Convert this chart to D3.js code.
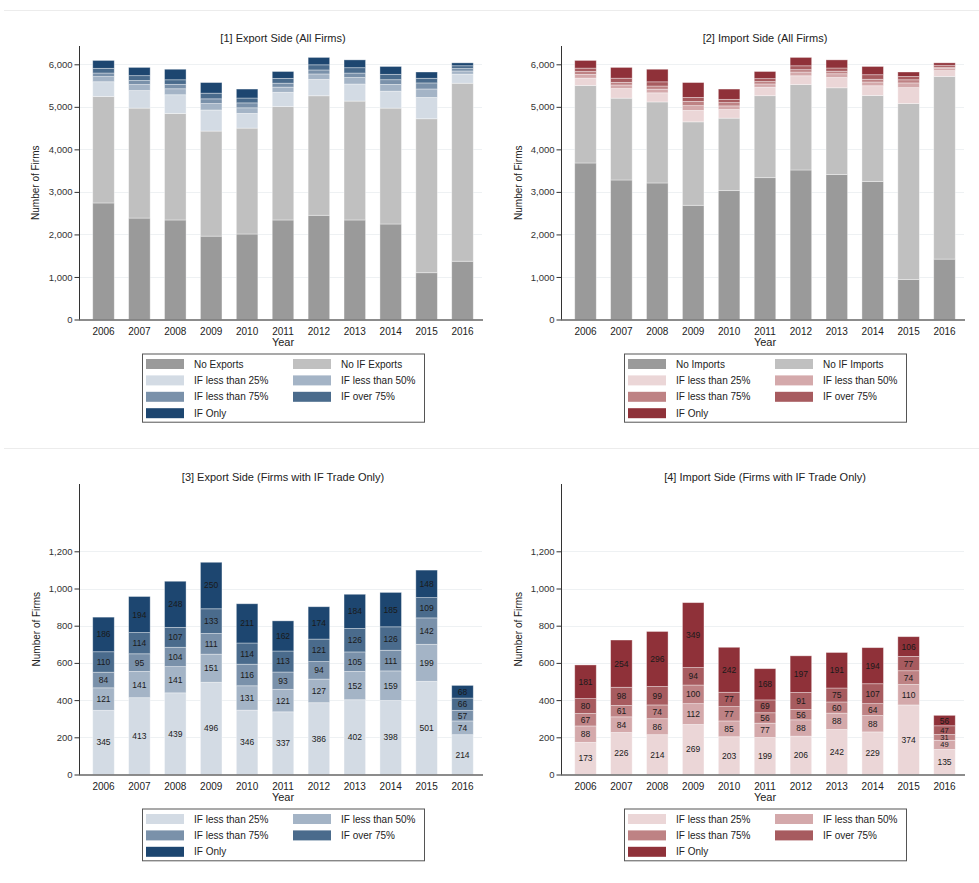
<!DOCTYPE html>
<html>
<head>
<meta charset="utf-8">
<script src="https://cdn.jsdelivr.net/npm/d3@7"></script>
<style>
  html, body { margin: 0; padding: 0; background: #fff; }
  svg { display: block; font-family: "Liberation Sans", Arial, sans-serif; }
</style>
</head>
<body>
<svg id="chart" width="979" height="883"></svg>
<script>
// Firm counts by year, 2006-2016
const years = [2006, 2007, 2008, 2009, 2010, 2011, 2012, 2013, 2014, 2015, 2016];

// Export side
const noExports   = [2740, 2385, 2340, 1960, 2010, 2340, 2450, 2340, 2245, 1100, 1370];
const noIFExports = [2505, 2585, 2505, 2470, 2490, 2665, 2810, 2795, 2725, 3620, 4185];
const expLt25   = [345, 413, 439, 496, 346, 337, 386, 402, 398, 501, 214];
const expLt50   = [121, 141, 141, 151, 131, 121, 127, 152, 159, 199, 74];
const expLt75   = [84, 95, 104, 111, 116, 93, 94, 105, 111, 142, 57];
const expOver75 = [110, 114, 107, 133, 114, 113, 121, 126, 126, 109, 66];
const expOnly   = [186, 194, 248, 250, 211, 162, 174, 184, 185, 148, 68];

// Import side
const noImports   = [3680, 3280, 3210, 2685, 3030, 3335, 3515, 3410, 3245, 940, 1420];
const noIFImports = [1822, 1924, 1905, 1962, 1704, 1927, 2009, 2038, 2022, 4138, 4296];
const impLt25   = [173, 226, 214, 269, 203, 199, 206, 242, 229, 374, 135];
const impLt50   = [88, 84, 86, 112, 85, 77, 88, 88, 88, 110, 49];
const impLt75   = [67, 61, 74, 100, 77, 56, 56, 60, 64, 74, 31];
const impOver75 = [80, 98, 99, 94, 77, 69, 91, 75, 107, 77, 47];
const impOnly   = [181, 254, 296, 349, 242, 168, 197, 191, 194, 106, 56];

const allTicks = [0, 1000, 2000, 3000, 4000, 5000, 6000];
const ifTicks  = [0, 200, 400, 600, 800, 1000, 1200];

const greyColors   = ["#9a9a9a", "#c0c0c0"];
const blueColors   = ["#d3dbe4", "#a4b4c6", "#7a91aa", "#4a6b8c", "#1d4670"];
const redColors    = ["#ebd6d7", "#d4a9ab", "#be8284", "#a75b5f", "#8f3139"];

const svg = d3.select("#chart");

// Light frame lines separating the two rows of graphs
svg.append("line").attr("x1", 4).attr("x2", 979).attr("y1", 10.5).attr("y2", 10.5)
  .attr("stroke", "#ececec").attr("stroke-width", 1);
svg.append("line").attr("x1", 4).attr("x2", 979).attr("y1", 448.5).attr("y2", 448.5)
  .attr("stroke", "#ececec").attr("stroke-width", 1);

function drawPanel(cfg) {
  const g = svg.append("g").attr("transform", `translate(${cfg.dx},${cfg.dy})`);
  const keys = cfg.series.map((s, i) => "k" + i);
  const rows = years.map((yr, j) => {
    const r = { year: yr };
    cfg.series.forEach((s, i) => { r["k" + i] = s.values[j]; });
    return r;
  });
  const stacked = d3.stack().keys(keys)(rows);

  const x = d3.scaleBand()
    .domain(years)
    .range([85.55, 480.45])
    .paddingInner(0.4)
    .paddingOuter(0.2);
  const y = d3.scaleLinear()
    .domain([0, cfg.tickVals[cfg.tickVals.length - 1]])
    .range([cfg.y0, cfg.yTopTick]);
  const axisTop = cfg.axisTop;

  // gridlines
  g.append("g").selectAll("line")
    .data(cfg.tickVals.filter(d => d > 0))
    .join("line")
    .attr("x1", 80).attr("x2", 482)
    .attr("y1", d => Math.round(y(d)) + 0.5).attr("y2", d => Math.round(y(d)) + 0.5)
    .attr("stroke", "#eef1f3").attr("stroke-width", 1);

  // bars
  g.append("g").selectAll("g")
    .data(stacked)
    .join("g")
    .attr("fill", (d, i) => cfg.series[i].color)
    .selectAll("rect")
    .data(d => d)
    .join("rect")
    .attr("x", d => x(d.data.year))
    .attr("width", x.bandwidth())
    .attr("y", d => y(d[1]))
    .attr("height", d => Math.max(0, y(d[0]) - y(d[1])))
    .attr("stroke", "#ffffff")
    .attr("stroke-opacity", 0.45)
    .attr("stroke-width", 0.8);

  // value labels, slightly smaller inside very thin segments
  if (cfg.labels) {
    const lg = g.append("g")
      .attr("fill", "#1a1a1a")
      .attr("text-anchor", "middle");
    stacked.forEach(layer => {
      layer.forEach(d => {
        const h = y(d[0]) - y(d[1]);
        lg.append("text")
          .attr("x", x(d.data.year) + x.bandwidth() / 2)
          .attr("y", (y(d[0]) + y(d[1])) / 2)
          .attr("dy", "0.35em")
          .attr("font-size", h < 10 ? 7.5 : 8.5)
          .text(d[1] - d[0]);
      });
    });
  }

  // y axis
  const yAxis = d3.axisLeft(y)
    .tickValues(cfg.tickVals)
    .tickFormat(d3.format(","))
    .tickSize(5)
    .tickPadding(2);
  const ya = g.append("g").attr("transform", "translate(79.5,0)").call(yAxis);
  ya.select(".domain").remove();
  ya.selectAll(".tick line").attr("stroke", "#333");
  ya.selectAll(".tick text").attr("font-size", 9.5).attr("fill", "#333")
    .attr("font-family", "Liberation Sans, Arial, sans-serif");
  g.append("line").attr("x1", 79.5).attr("x2", 79.5)
    .attr("y1", axisTop).attr("y2", cfg.y0 + 0.5)
    .attr("stroke", "#333").attr("stroke-width", 1);

  // x axis
  const xAxis = d3.axisBottom(x).tickSize(0).tickPadding(8);
  const xa = g.append("g").attr("transform", `translate(0,${cfg.y0})`).call(xAxis);
  xa.select(".domain").remove();
  xa.selectAll(".tick text").attr("font-size", 10).attr("fill", "#222")
    .attr("font-family", "Liberation Sans, Arial, sans-serif");
  g.append("line").attr("x1", 79).attr("x2", 483)
    .attr("y1", cfg.y0 + 0.5).attr("y2", cfg.y0 + 0.5)
    .attr("stroke", "#666").attr("stroke-width", 1.4);

  // titles
  g.append("text").attr("x", 283).attr("y", cfg.titleY)
    .attr("text-anchor", "middle").attr("font-size", 11).attr("fill", "#222")
    .text(cfg.title);
  g.append("text").attr("x", 283).attr("y", cfg.y0 + 26)
    .attr("text-anchor", "middle").attr("font-size", 11).attr("fill", "#222")
    .text("Year");
  g.append("text")
    .attr("transform", `translate(${cfg.yLabelX},${(axisTop + cfg.y0) / 2}) rotate(-90)`)
    .attr("text-anchor", "middle").attr("dy", "0.35em")
    .attr("font-size", 10).attr("fill", "#222")
    .text("Number of Firms");

  // legend
  const legendTop = cfg.y0 + 34;
  const nRows = Math.ceil(cfg.series.length / 2);
  const rowH = 16.4;
  const lg = g.append("g");
  lg.append("rect")
    .attr("x", 142.5).attr("y", legendTop + 0.5)
    .attr("width", 282).attr("height", 10 + (nRows - 1) * rowH + 9)
    .attr("fill", "#fff").attr("stroke", "#555").attr("stroke-width", 1);
  cfg.series.forEach((s, i) => {
    const col = i % 2, row = Math.floor(i / 2);
    const cy = legendTop + 10.5 + row * rowH;
    const sx = col === 0 ? 146 : 293;
    lg.append("rect")
      .attr("x", sx).attr("y", cy - 5).attr("width", 38).attr("height", 10)
      .attr("fill", s.color);
    lg.append("text")
      .attr("x", sx + 48).attr("y", cy).attr("dy", "0.35em")
      .attr("font-size", 10).attr("fill", "#222")
      .text(s.name);
  });
}

const ifNames = ["IF less than 25%", "IF less than 50%", "IF less than 75%", "IF over 75%", "IF Only"];

const expIF = [expLt25, expLt50, expLt75, expOver75, expOnly];
const impIF = [impLt25, impLt50, impLt75, impOver75, impOnly];

drawPanel({
  dx: 0, dy: 0,
  title: "[1] Export Side (All Firms)", titleY: 42,
  y0: 319.5, yTopTick: 64.3, axisTop: 46, tickVals: allTicks, yLabelX: 35.5,
  labels: false,
  series: [
    { name: "No Exports", values: noExports, color: greyColors[0] },
    { name: "No IF Exports", values: noIFExports, color: greyColors[1] }
  ].concat(expIF.map((v, i) => ({ name: ifNames[i], values: v, color: blueColors[i] })))
});

drawPanel({
  dx: 482, dy: 0,
  title: "[2] Import Side (All Firms)", titleY: 42,
  y0: 319.5, yTopTick: 64.3, axisTop: 46, tickVals: allTicks, yLabelX: 36,
  labels: false,
  series: [
    { name: "No Imports", values: noImports, color: greyColors[0] },
    { name: "No IF Imports", values: noIFImports, color: greyColors[1] }
  ].concat(impIF.map((v, i) => ({ name: ifNames[i], values: v, color: redColors[i] })))
});

drawPanel({
  dx: 0, dy: 0,
  title: "[3] Export Side (Firms with IF Trade Only)", titleY: 481,
  y0: 774.5, yTopTick: 551.3, axisTop: 484, tickVals: ifTicks, yLabelX: 36,
  labels: true,
  series: expIF.map((v, i) => ({ name: ifNames[i], values: v, color: blueColors[i] }))
});

drawPanel({
  dx: 482, dy: 0,
  title: "[4] Import Side (Firms with IF Trade Only)", titleY: 481,
  y0: 774.5, yTopTick: 551.3, axisTop: 484, tickVals: ifTicks, yLabelX: 36,
  labels: true,
  series: impIF.map((v, i) => ({ name: ifNames[i], values: v, color: redColors[i] }))
});
</script>
</body>
</html>
